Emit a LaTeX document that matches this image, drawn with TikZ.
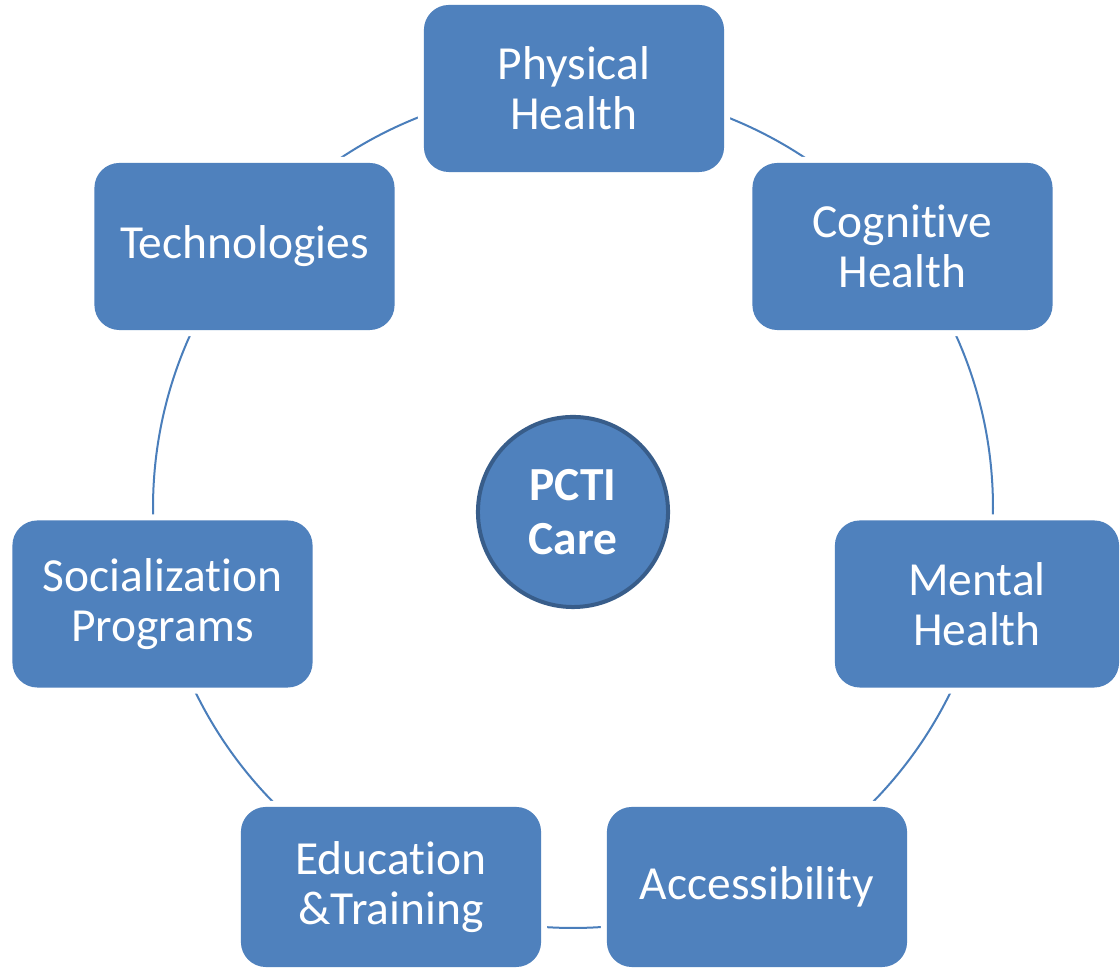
\documentclass[tikz,border=0pt]{standalone}
\usepackage{fontspec}
\setmainfont{Carlito}[Ligatures=NoCommon]
\definecolor{boxblue}{HTML}{4F81BD}
\definecolor{ringblue}{HTML}{4A7EBB}
\definecolor{rimblue}{HTML}{385D8A}

\begin{document}
\begin{tikzpicture}[x=0.01cm,y=-0.01cm]
   \tikzset{Area/.style={rectangle, rounded corners=0.25cm, fill=boxblue, text=white,
      minimum width=3cm, minimum height=1.67cm, align=center,
      font=\fontsize{13.5}{14.2}\selectfont, preaction={draw=white, line width=0.12cm}}}
   \tikzset{Hub/.style={circle, fill=boxblue, draw=rimblue, line width=0.04cm,
      minimum size=1.9cm, text=white, align=center, font=\fontsize{13.5}{15.5}\selectfont\bfseries}}
   \useasboundingbox (0,0) rectangle (1120,968);
   \coordinate (ring) at (573,508);
   \draw[ringblue, line width=0.02cm] (ring) circle[radius=420];
   \node[Hub] (care) at (573,512) {PCTI\\Care};
   \node[Area] (phys) at (574,88.5) {Physical\\Health};
   \node[Area] (cog) at (902.5,246.5) {Cognitive\\Health};
   \node[Area, minimum width=2.84cm] (ment) at (977,604) {Mental\\Health};
   \node[Area, minimum height=1.6cm] (acc) at (757,887) {Accessibility};
   \node[Area, minimum height=1.6cm] (edu) at (391,887) {Education\\\&Training};
   \node[Area] (soc) at (162.5,604) {Socialization\\Programs};
   \node[Area] (tech) at (244.5,246.5) {Technologies};
\end{tikzpicture}
\end{document}
